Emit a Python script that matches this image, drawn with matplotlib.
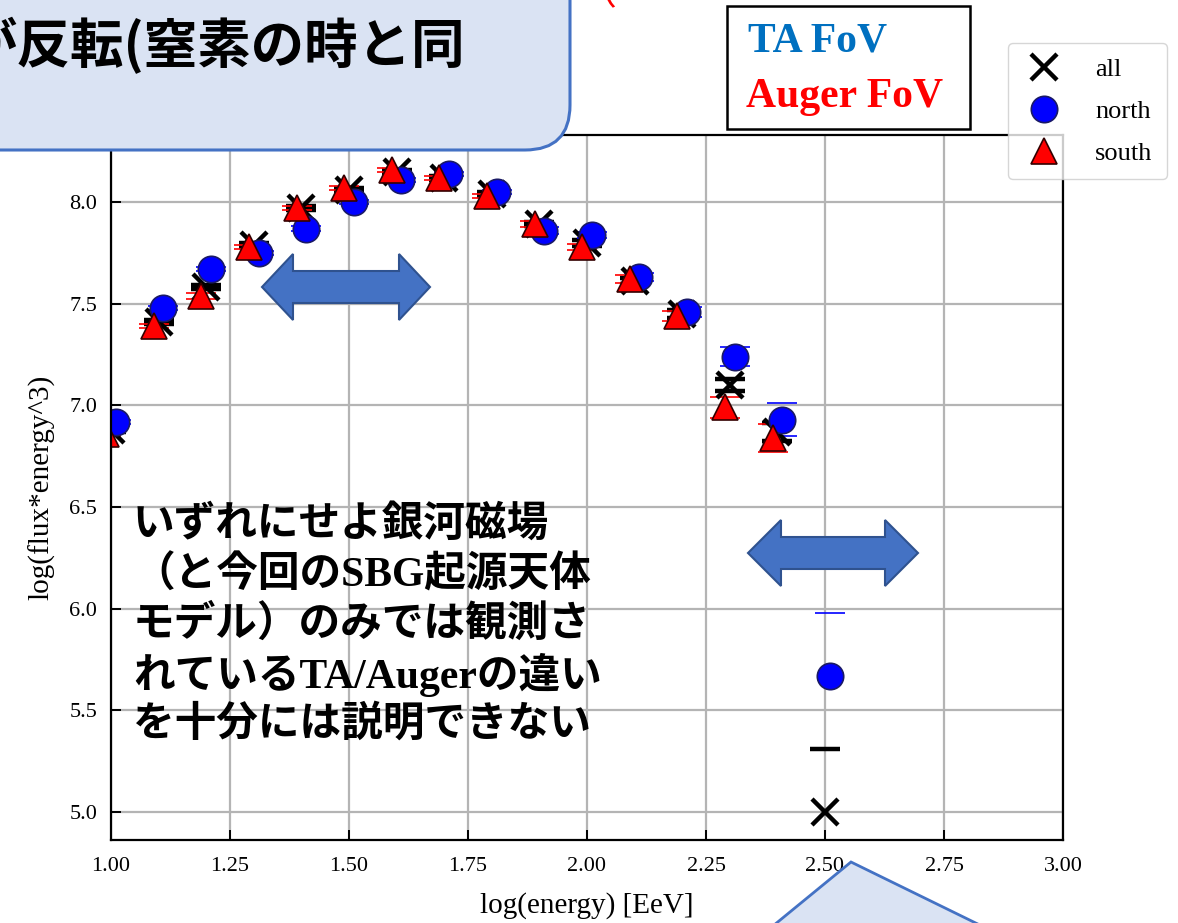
import matplotlib
matplotlib.use("Agg")
import matplotlib.pyplot as plt
import numpy as np
from matplotlib.patches import FancyBboxPatch, Polygon, Rectangle

# ---- data -------------------------------------------------------------
energy_bins = [1.0, 1.1, 1.2, 1.3, 1.4, 1.5, 1.6, 1.7, 1.8, 1.9,
               2.0, 2.1, 2.2, 2.3, 2.4, 2.5]

all_y = [6.88, 7.41, 7.58, 7.79, 7.97, 8.06, 8.15, 8.12, 8.04, 7.89,
         7.80, 7.61, 7.45, 7.10, 6.87, 5.00]
all_err_lo = [0.01, 0.01, 0.01, 0.01, 0.01, 0.01, 0.01, 0.01, 0.01, 0.01,
              0.015, 0.015, 0.02, 0.03, 0.045, 9.0]
all_err_hi = [0.01, 0.01, 0.01, 0.01, 0.01, 0.01, 0.01, 0.01, 0.01, 0.01,
              0.015, 0.015, 0.02, 0.03, 0.045, 0.31]

north_y = [6.92, 7.48, 7.67, 7.75, 7.87, 8.00, 8.11, 8.14, 8.05, 7.86,
           7.84, 7.63, 7.46, 7.24, 6.93, 5.67]
north_err_lo = [0.01, 0.01, 0.01, 0.01, 0.01, 0.01, 0.01, 0.01, 0.01, 0.015,
                0.015, 0.02, 0.025, 0.045, 0.08, 9.0]
north_err_hi = [0.01, 0.01, 0.01, 0.01, 0.01, 0.01, 0.01, 0.01, 0.01, 0.015,
                0.015, 0.02, 0.025, 0.045, 0.08, 0.31]

south_y = [6.86, 7.39, 7.54, 7.78, 7.97, 8.07, 8.16, 8.12, 8.03, 7.89,
           7.78, 7.62, 7.44, 6.99, 6.84]
south_err = [0.01, 0.01, 0.015, 0.01, 0.01, 0.01, 0.01, 0.01, 0.01, 0.015,
             0.015, 0.02, 0.025, 0.05, 0.07]

x_ticks = [1.00, 1.25, 1.50, 1.75, 2.00, 2.25, 2.50, 2.75, 3.00]
y_ticks = [5.0, 5.5, 6.0, 6.5, 7.0, 7.5, 8.0]

x_label = "log(energy) [EeV]"
y_label = "log(flux*energy^3)"

note_lines = ["いずれにせよ銀河磁場",
              "（と今回のSBG起源天体",
              "モデル）のみでは観測さ",
              "れているTA/Augerの違い",
              "を十分には説明できない"]
banner_text = "が反転(窒素の時と同"

# ---- figure -----------------------------------------------------------
W, H = 1178, 923
fig = plt.figure(figsize=(W / 100, H / 100), dpi=100)
fig.patch.set_facecolor("white")

serif = ["Liberation Serif", "DejaVu Serif"]
jp_mix = ["Liberation Serif", "Noto Sans CJK JP"]

ax = fig.add_axes([111 / W, 1 - 840 / H, (1063 - 111) / W, (840 - 135) / H])
ax.set_xlim(1.0, 3.0)
ax.set_ylim(4.862, 8.33)
ax.set_axisbelow(True)
ax.grid(True, color="#b4b4b4", linewidth=1.6)
for s in ax.spines.values():
    s.set_linewidth(1.6)
    s.set_color("black")

ax.set_xticks(x_ticks)
ax.set_xticklabels([f"{t:.2f}" for t in x_ticks], fontfamily=serif, fontsize=16)
ax.set_yticks(y_ticks)
ax.set_yticklabels([f"{t:.1f}" for t in y_ticks], fontfamily=serif, fontsize=16)
ax.tick_params(direction="in", length=7, width=1.4, pad=10, colors="black")
ax.tick_params(axis="x", pad=12)
ax.set_xlabel(x_label, fontfamily=serif, fontsize=21, labelpad=12)
ax.set_ylabel(y_label, fontfamily=serif, fontsize=21, labelpad=10)

bins = np.array(energy_bins)
shift = 0.01
ms = 19

ax.errorbar(bins, all_y, yerr=[all_err_lo, all_err_hi], fmt="x", color="black",
            ms=ms, mew=3.2, elinewidth=0, capsize=11, capthick=1.6, label="all")
ax.errorbar(bins + shift, north_y, yerr=[north_err_lo, north_err_hi], fmt="o",
            color="blue", mec="#1a1a66", mew=1.2, ms=ms, elinewidth=0,
            capsize=11, capthick=1.6, label="north")
ax.errorbar(bins[:len(south_y)] - shift, south_y, yerr=south_err, fmt="^",
            color="red", mec="#330000", mew=1.2, ms=ms, elinewidth=0,
            capsize=11, capthick=1.6, label="south")

handles, labels = ax.get_legend_handles_labels()
handles = [h[0] for h in handles]
leg = ax.legend(handles, labels, loc="upper right",
                bbox_to_anchor=(1167 / W, 1 - 43 / H),
                bbox_transform=fig.transFigure, borderaxespad=0,
                prop={"family": serif, "size": 19}, framealpha=0.8,
                handlelength=1.6, handletextpad=1.15, labelspacing=0.7,
                borderpad=0.55, fancybox=True, edgecolor="#cccccc")

# ---- overlay layer in pixel coordinates ------------------------------
ov = fig.add_axes([0, 0, 1, 1], zorder=10)
ov.set_xlim(0, W)
ov.set_ylim(H, 0)
ov.axis("off")
ov.patch.set_alpha(0)

fill_blue = "#dae3f3"
edge_blue = "#4472c4"

# rounded banner at the top left
ov.add_patch(FancyBboxPatch((-60, -60), 630, 210,
                            boxstyle="round,pad=0,rounding_size=45",
                            facecolor=fill_blue, edgecolor=edge_blue,
                            linewidth=2.2, clip_on=False))
ov.text(-37, 46, banner_text, fontfamily=["Noto Sans CJK JP"], fontweight="bold",
        fontsize=38.5, va="center", ha="left", color="black")
ov.text(578, -7, "（", fontfamily=["Noto Sans CJK JP"], fontsize=28,
        va="center", ha="left", color="red")

# field-of-view key box
ov.add_patch(Rectangle((727, 6), 243, 123, facecolor="white",
                       edgecolor="black", linewidth=1.8))
ov.text(748, 42, "TA FoV", fontfamily=serif, fontweight="bold", fontsize=30,
        color="#0070c0", va="center", ha="left")
ov.text(746, 97, "Auger FoV", fontfamily=serif, fontweight="bold", fontsize=30,
        color="#ff0000", va="center", ha="left")


def double_arrow(x0, x1, yc, head_len, head_half, shaft_half):
    pts = [(x0, yc), (x0 + head_len, yc - head_half),
           (x0 + head_len, yc - shaft_half), (x1 - head_len, yc - shaft_half),
           (x1 - head_len, yc - head_half), (x1, yc),
           (x1 - head_len, yc + head_half), (x1 - head_len, yc + shaft_half),
           (x0 + head_len, yc + shaft_half), (x0 + head_len, yc + head_half)]
    ov.add_patch(Polygon(pts, closed=True, facecolor="#4472c4",
                         edgecolor="#2f528f", linewidth=1.5))


double_arrow(262, 430, 287, 31, 33, 16)
double_arrow(748, 918, 553, 33, 33, 16)

# callout pointer at the bottom
ov.add_patch(Polygon([(851, 862), (768, 930), (990, 930)], closed=True,
                     facecolor=fill_blue, edgecolor=edge_blue, linewidth=2,
                     clip_on=False))

# annotation text block
for i, line in enumerate(note_lines):
    ov.text(133, 525 + i * 50, line, fontfamily=jp_mix, fontweight="bold",
            fontsize=30, color="black", va="center", ha="left")

fig.savefig("out.png", dpi=100)
